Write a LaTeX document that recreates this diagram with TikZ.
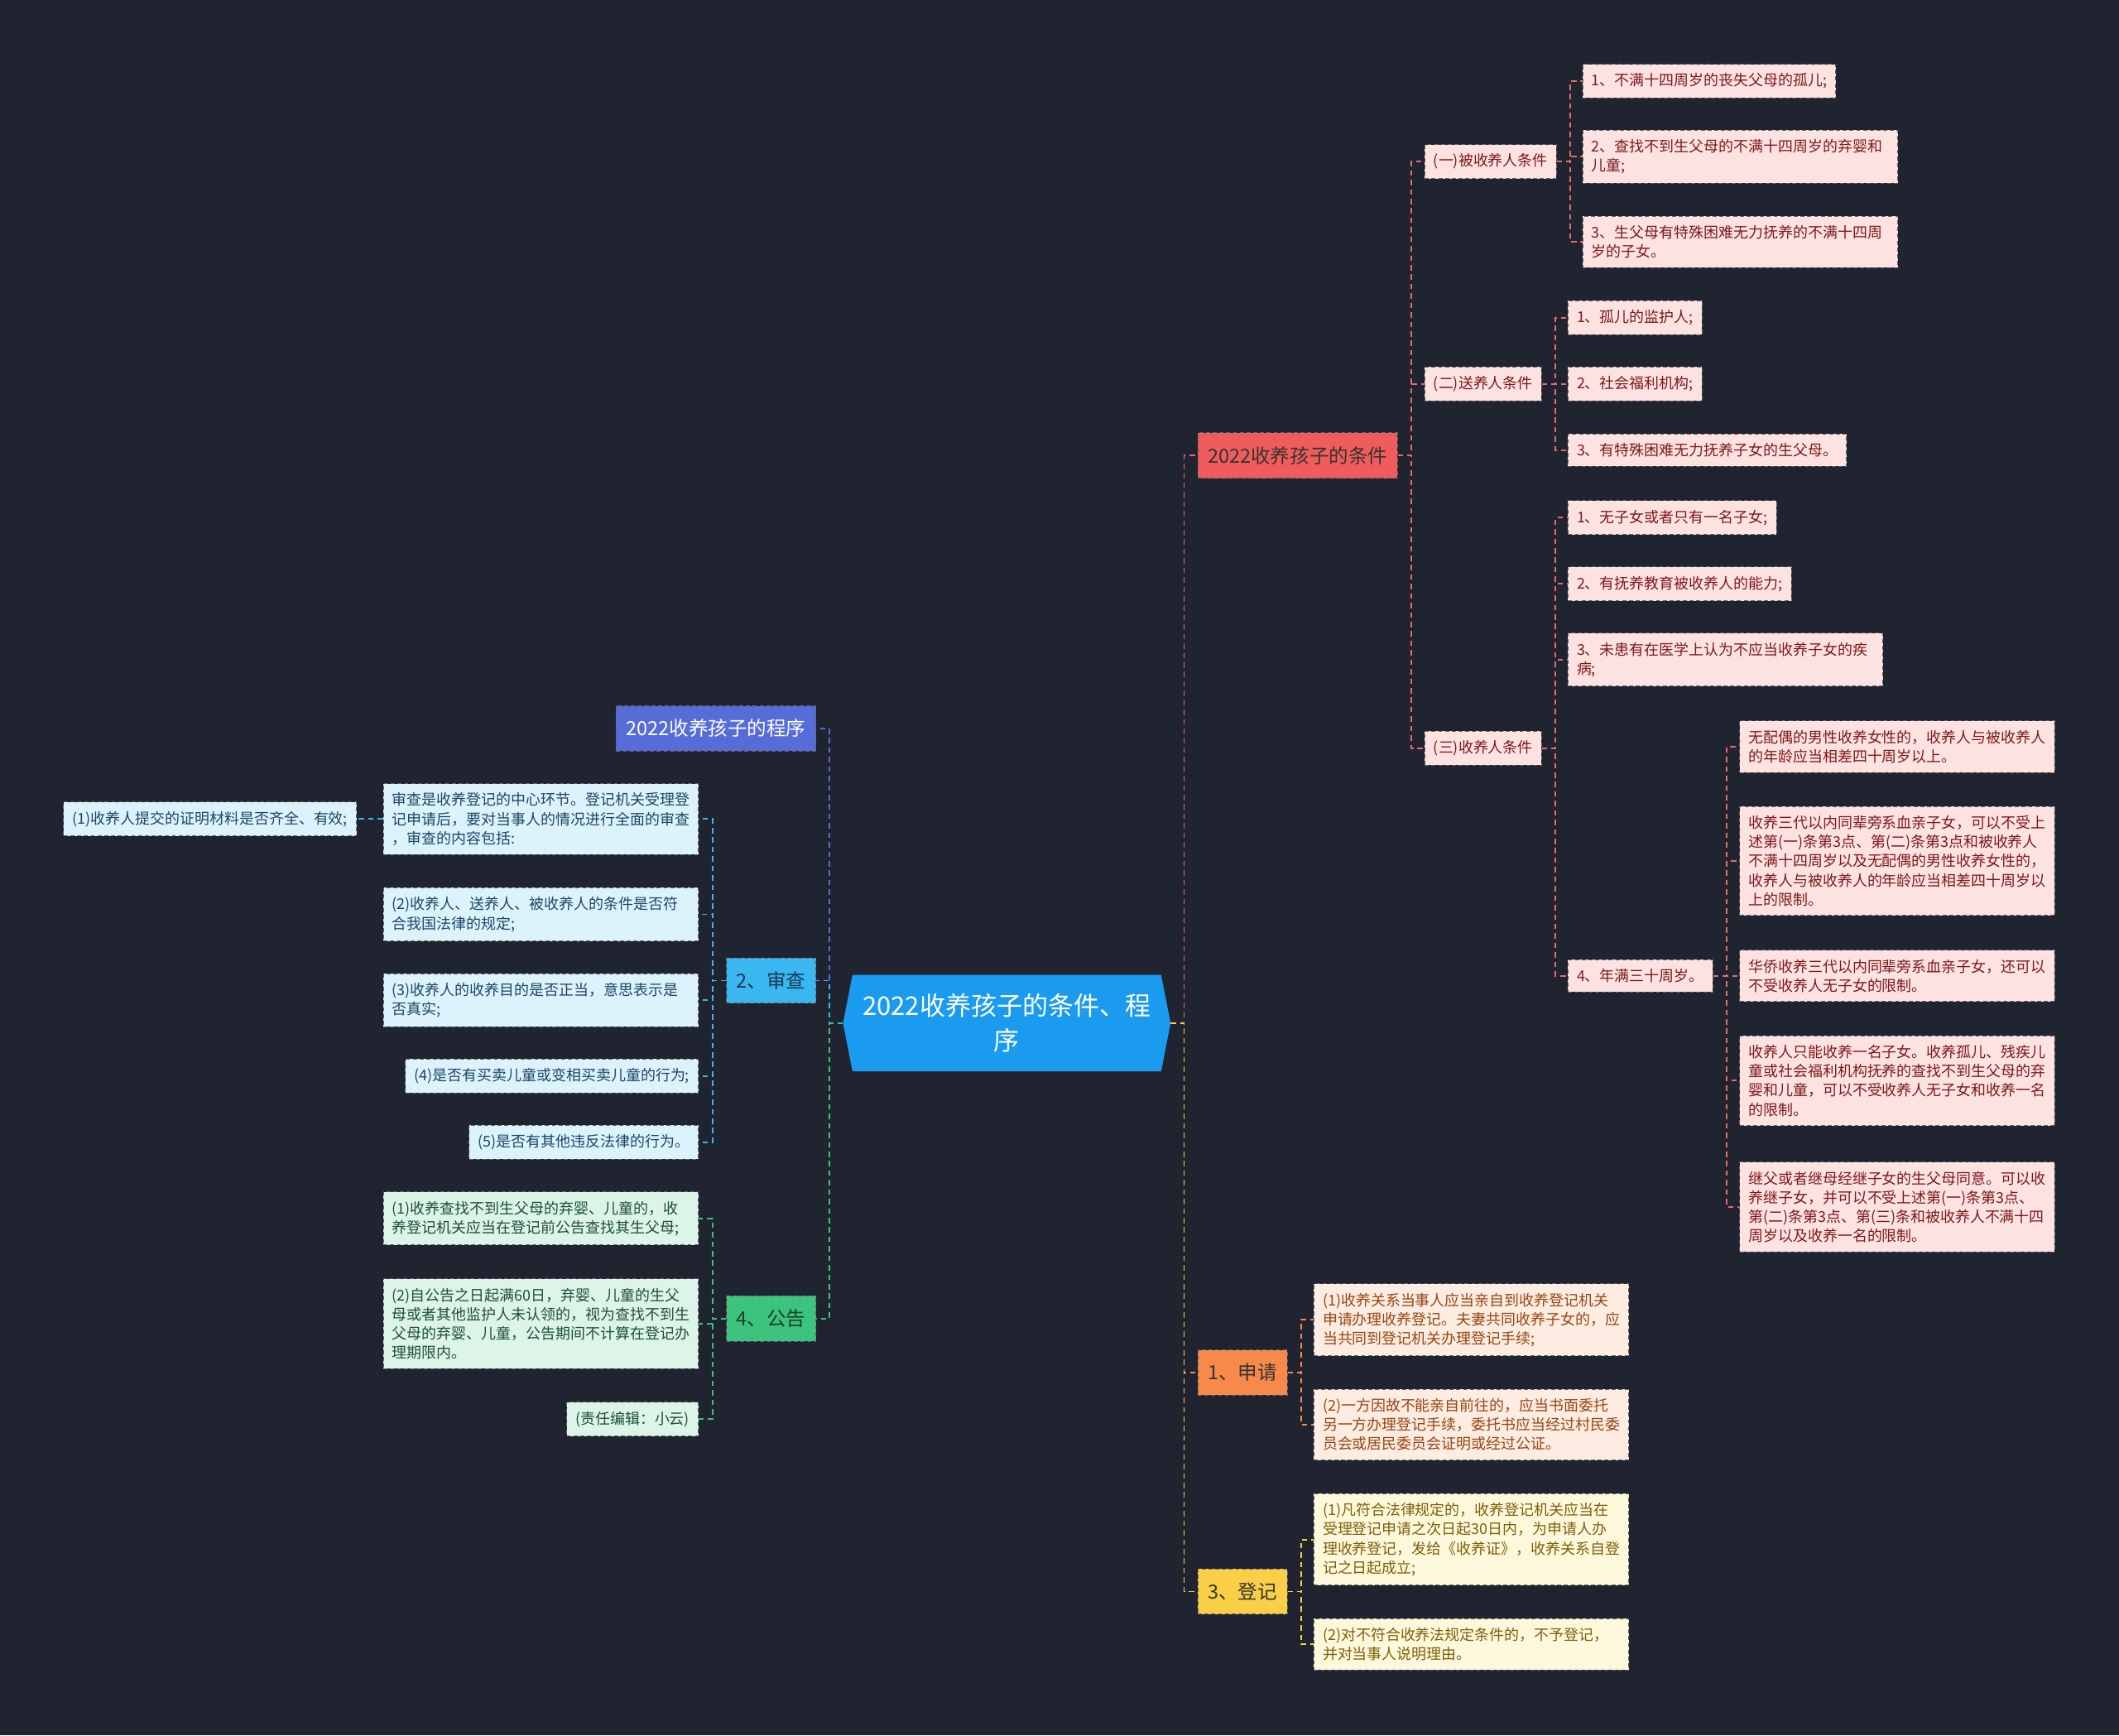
\documentclass[tikz,border=0pt]{standalone}
\usepackage{fontspec}
\setmainfont{Noto Sans CJK SC}
\usetikzlibrary{backgrounds}
\definecolor{bgc}{RGB}{32,35,48}
\definecolor{rootc}{RGB}{26,155,240}
\definecolor{redc}{RGB}{240,92,92}
\definecolor{redln}{RGB}{235,105,105}
\definecolor{redbg}{RGB}{253,226,226}
\definecolor{redtx}{RGB}{125,25,25}
\definecolor{orc}{RGB}{247,137,74}
\definecolor{orbg}{RGB}{253,236,225}
\definecolor{ortx}{RGB}{150,70,20}
\definecolor{yec}{RGB}{250,206,70}
\definecolor{yebg}{RGB}{253,248,220}
\definecolor{yetx}{RGB}{125,95,10}
\definecolor{bluc}{RGB}{86,108,216}
\definecolor{cyc}{RGB}{58,182,240}
\definecolor{cybg}{RGB}{220,243,252}
\definecolor{cytx}{RGB}{30,70,100}
\definecolor{grc}{RGB}{60,196,126}
\definecolor{grbg}{RGB}{220,245,232}
\definecolor{grtx}{RGB}{30,80,50}
\tikzset{
  bx/.style={draw=black!60, line width=0.6pt, dash pattern=on 3pt off 2pt},
  lf/.style={bx, font=\fontsize{11}{14.2}\selectfont, inner xsep=6.5pt, inner ysep=6.8pt, align=left},
  wr/.style={lf, text width=220pt},
  lone/.style={bx, font=\fontsize{14.4}{18}\selectfont, inner xsep=7.5pt, inner ysep=4pt, minimum height=33.5pt},
  cn/.style={line width=1.1pt, dash pattern=on 4pt off 3pt},
  Rl/.style={fill=redbg, text=redtx},
  Ol/.style={fill=orbg, text=ortx},
  Yl/.style={fill=yebg, text=yetx},
  Cl/.style={fill=cybg, text=cytx},
  Gl/.style={fill=grbg, text=grtx},
  rw/.style={anchor=west},
  le/.style={anchor=east}
}
\begin{document}
\begin{tikzpicture}[x=1pt,y=-1pt]
\useasboundingbox (0,0) rectangle (1568,1284);
\begin{scope}[on background layer]
\fill[bgc] (0,0) rectangle (1568,1284);
\end{scope}

% root
\node[minimum width=242pt, minimum height=71pt, inner sep=0pt, align=center, text=white,
  font=\fontsize{19}{25.6}\selectfont] (root) at (745,757) {2022收养孩子的条件、程\\序};
\begin{scope}[on background layer]
\fill[rootc] ([xshift=7pt]root.north west) -- ([xshift=-7pt]root.north east) -- (root.east)
  -- ([xshift=-7pt]root.south east) -- ([xshift=7pt]root.south west) -- (root.west) -- cycle;
\end{scope}

% level 1
\node[lone, rw, fill=redc, text=black!80] (cond) at (886,337) {2022收养孩子的条件};
\node[lone, rw, fill=orc, text=black!80] (app) at (886,1015.5) {1、申请};
\node[lone, rw, fill=yec, text=black!80] (reg) at (886,1177.5) {3、登记};
\node[lone, le, fill=bluc, text=white] (proc) at (604,539) {2022收养孩子的程序};
\node[lone, le, fill=cyc, text=cytx!80!black] (rev) at (604,725.5) {2、审查};
\node[lone, le, fill=grc, text=grtx!80!black] (pub) at (604,975.5) {4、公告};

% conditions
\node[lf, Rl, rw] (c1) at (1054,119.5) {(一)被收养人条件};
\node[lf, Rl, rw] (c2) at (1054,284) {(二)送养人条件};
\node[lf, Rl, rw] (c3) at (1054,553.5) {(三)收养人条件};

\node[lf, Rl, rw] (c1a) at (1171,60) {1、不满十四周岁的丧失父母的孤儿;};
\node[wr, Rl, rw] (c1b) at (1171,116) {2、查找不到生父母的不满十四周岁的弃婴和\\儿童;};
\node[wr, Rl, rw] (c1c) at (1171,179) {3、生父母有特殊困难无力抚养的不满十四周\\岁的子女。};

\node[lf, Rl, rw] (c2a) at (1160,235) {1、孤儿的监护人;};
\node[lf, Rl, rw] (c2b) at (1160,284) {2、社会福利机构;};
\node[lf, Rl, rw] (c2c) at (1160,333) {3、有特殊困难无力抚养子女的生父母。};

\node[lf, Rl, rw] (c3a) at (1160,383) {1、无子女或者只有一名子女;};
\node[lf, Rl, rw] (c3b) at (1160,432) {2、有抚养教育被收养人的能力;};
\node[wr, Rl, rw] (c3c) at (1160,488) {3、未患有在医学上认为不应当收养子女的疾\\病;};
\node[lf, Rl, rw] (c3d) at (1160,722) {4、年满三十周岁。};

\node[wr, Rl, rw] (d1) at (1287,552.5) {无配偶的男性收养女性的，收养人与被收养人\\的年龄应当相差四十周岁以上。};
\node[wr, Rl, rw] (d2) at (1287,637) {收养三代以内同辈旁系血亲子女，可以不受上\\述第(一)条第3点、第(二)条第3点和被收养人\\不满十四周岁以及无配偶的男性收养女性的，\\收养人与被收养人的年龄应当相差四十周岁以\\上的限制。};
\node[wr, Rl, rw] (d3) at (1287,722) {华侨收养三代以内同辈旁系血亲子女，还可以\\不受收养人无子女的限制。};
\node[wr, Rl, rw] (d4) at (1287,799.5) {收养人只能收养一名子女。收养孤儿、残疾儿\\童或社会福利机构抚养的查找不到生父母的弃\\婴和儿童，可以不受收养人无子女和收养一名\\的限制。};
\node[wr, Rl, rw] (d5) at (1287,893) {继父或者继母经继子女的生父母同意。可以收\\养继子女，并可以不受上述第(一)条第3点、\\第(二)条第3点、第(三)条和被收养人不满十四\\周岁以及收养一名的限制。};

% application / registration
\node[wr, Ol, rw] (a1) at (972,976.5) {(1)收养关系当事人应当亲自到收养登记机关\\申请办理收养登记。夫妻共同收养子女的，应\\当共同到登记机关办理登记手续;};
\node[wr, Ol, rw] (a2) at (972,1054) {(2)一方因故不能亲自前往的，应当书面委托\\另一方办理登记手续，委托书应当经过村民委\\员会或居民委员会证明或经过公证。};
\node[wr, Yl, rw] (r1) at (972,1139) {(1)凡符合法律规定的，收养登记机关应当在\\受理登记申请之次日起30日内，为申请人办\\理收养登记，发给《收养证》，收养关系自登\\记之日起成立;};
\node[wr, Yl, rw] (r2) at (972,1216.5) {(2)对不符合收养法规定条件的，不予登记，\\并对当事人说明理由。};

% review
\node[wr, Cl, le] (v0) at (517,606) {审查是收养登记的中心环节。登记机关受理登\\记申请后，要对当事人的情况进行全面的审查\\，审查的内容包括:};
\node[lf, Cl, le] (v0a) at (264,606) {(1)收养人提交的证明材料是否齐全、有效;};
\node[wr, Cl, le] (v2) at (517,676.5) {(2)收养人、送养人、被收养人的条件是否符\\合我国法律的规定;};
\node[wr, Cl, le] (v3) at (517,740) {(3)收养人的收养目的是否正当，意思表示是\\否真实;};
\node[lf, Cl, le] (v4) at (517,796) {(4)是否有买卖儿童或变相买卖儿童的行为;};
\node[lf, Cl, le] (v5) at (517,845) {(5)是否有其他违反法律的行为。};

% public notice
\node[wr, Gl, le] (p1) at (517,901.5) {(1)收养查找不到生父母的弃婴、儿童的，收\\养登记机关应当在登记前公告查找其生父母;};
\node[wr, Gl, le] (p2) at (517,979.5) {(2)自公告之日起满60日，弃婴、儿童的生父\\母或者其他监护人未认领的，视为查找不到生\\父母的弃婴、儿童，公告期间不计算在登记办\\理期限内。};
\node[lf, Gl, le] (p3) at (517,1050) {(责任编辑：小云)};

% connectors: root
\draw[cn, redln] (root.east) -- ++(10,0) |- (cond.west);
\draw[cn, orc] (root.east) -- ++(10,0) |- (app.west);
\draw[cn, yec] (root.east) -- ++(10,0) |- (reg.west);
\draw[cn, bluc] (root.west) -- ++(-10,0) |- (proc.east);
\draw[cn, cyc] (root.west) -- ++(-10,0) |- (rev.east);
\draw[cn, grc] (root.west) -- ++(-10,0) |- (pub.east);

% connectors: conditions
\foreach \c in {c1,c2,c3} \draw[cn, redln] (cond.east) -- ++(10,0) |- (\c.west);
\foreach \c in {c1a,c1b,c1c} \draw[cn, redln] (c1.east) -- ++(10,0) |- (\c.west);
\foreach \c in {c2a,c2b,c2c} \draw[cn, redln] (c2.east) -- ++(10,0) |- (\c.west);
\foreach \c in {c3a,c3b,c3c,c3d} \draw[cn, redln] (c3.east) -- ++(10,0) |- (\c.west);
\foreach \c in {d1,d2,d3,d4,d5} \draw[cn, redln] (c3d.east) -- ++(10,0) |- (\c.west);

% connectors: application / registration
\foreach \c in {a1,a2} \draw[cn, orc] (app.east) -- ++(10,0) |- (\c.west);
\foreach \c in {r1,r2} \draw[cn, yec] (reg.east) -- ++(10,0) |- (\c.west);

% connectors: left
\foreach \c in {v0,v2,v3,v4,v5} \draw[cn, cyc] (rev.west) -- ++(-10,0) |- (\c.east);
\draw[cn, cyc] (v0.west) -- (v0a.east);
\foreach \c in {p1,p2,p3} \draw[cn, grc] (pub.west) -- ++(-10,0) |- (\c.east);
\end{tikzpicture}
\end{document}
